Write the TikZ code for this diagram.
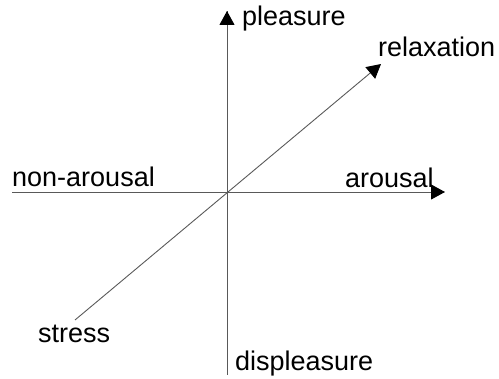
\documentclass[tikz,border=0pt]{standalone}
\usepackage{fontspec}
\setmainfont{Liberation Sans}
\usetikzlibrary{arrows.meta}
\begin{document}
\begin{tikzpicture}[x=1pt,y=-1pt,
  axis/.style={draw=black!65,line width=0.9pt},
  tipped/.style={axis,-{Triangle[length=14pt,width=15pt,color=black]}},
  lbl/.style={anchor=base west,inner sep=0pt,text=black,font=\fontsize{27}{32}\selectfont}]
\useasboundingbox (0,0) rectangle (499,379);
\coordinate (top) at (227,11);
\coordinate (bot) at (227,375);
\coordinate (left) at (12,192);
\coordinate (right) at (445,192);
\coordinate (sw) at (75,320);
\coordinate (ne) at (381,64);
\draw[axis] (bot) -- (top);
\draw[tipped] (227,30) -- (top);
\draw[tipped] (left) -- (right);
\draw[tipped] (sw) -- (ne);
\node[lbl] (pl) at (242,26) {pleasure};
\node[lbl] (rx) at (378,57) {relaxation};
\node[lbl] (ar) at (345,188) {arousal};
\node[lbl] (na) at (12,187) {non-arousal};
\node[lbl] (st) at (38,343) {stress};
\node[lbl] (dp) at (235,371) {displeasure};
\end{tikzpicture}
\end{document}
